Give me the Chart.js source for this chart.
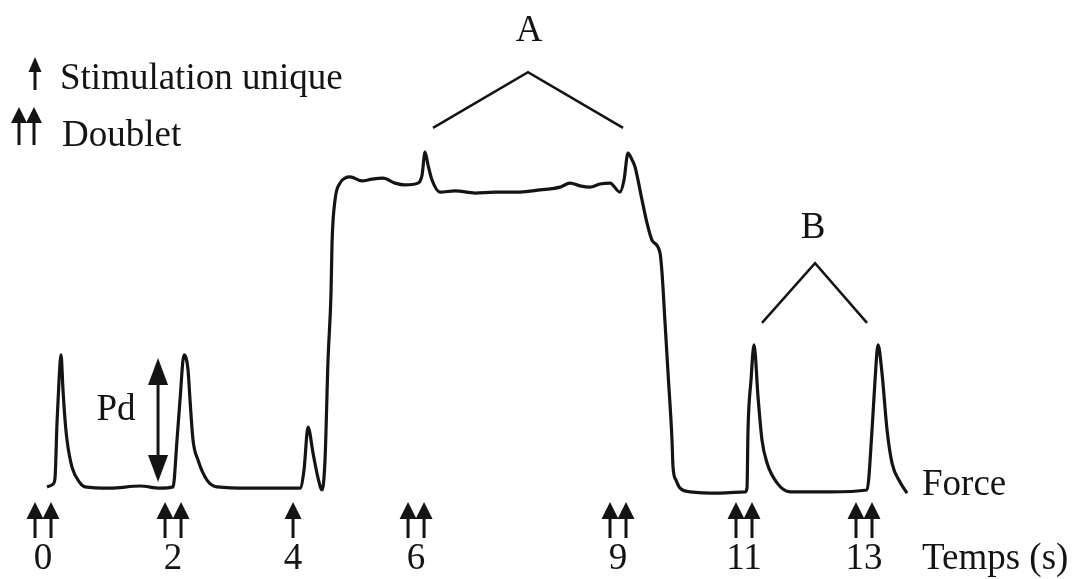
<!DOCTYPE html>
<html><head><meta charset="utf-8">
<script src="https://cdn.jsdelivr.net/npm/chart.js@4.4.1/dist/chart.umd.min.js"></script>
<style>html,body{margin:0;padding:0;background:#fff;overflow:hidden}#wrap{width:1077px;height:579px;position:relative}</style>
</head><body><div id="wrap"><canvas id="c"></canvas></div>
<script>
// Trace position along the recording (drawing units) and force (% of plateau)
const tracePos = [0.067,0.167,0.2,0.233,0.267,0.3,0.333,0.367,0.4,0.483,0.617,0.7,1.117,1.617,1.95,
  2.167,2.233,2.283,2.35,2.417,2.45,2.5,2.583,2.733,2.9,3.45,4.283,4.35,4.417,4.5,4.583,4.65,
  4.7,4.75,4.8,4.817,4.867,4.95,5.033,5.117,5.317,5.483,5.667,5.867,6.033,6.25,6.317,6.367,6.417,6.483,
  6.617,6.867,7.2,7.533,7.95,8.283,8.617,8.783,8.95,9.117,9.283,9.45,9.617,9.683,9.75,9.817,9.867,
  9.983,10.067,10.15,10.283,10.317,10.367,10.417,10.483,10.5,10.55,10.617,10.783,11.283,11.7,
  11.733,11.75,11.8,11.85,11.917,11.983,12.067,12.233,12.45,13.117,13.733,13.817,13.867,13.917,
  13.983,14.067,14.15,14.283,14.4];
const traceForce = [0.9,1.8,3.8,21.5,35.4,43.5,32.2,22.5,16.0,7.3,2.2,0.9,0.5,1.2,0.5,
  0.9,16.0,28.9,43.5,38.6,28.9,16.0,9.6,3.1,0.9,0.5,0.5,6.4,20.2,11.8,3.8,-0.1,
  9.6,41.8,63.5,79.6,93.5,98.9,100.5,100.9,99.6,100.2,100.5,98.9,98.3,98.9,101.5,108.9,104.7,99.9,
  96.0,96.4,95.7,96.0,96.0,96.7,97.6,98.9,98.0,97.6,98.6,98.9,96.0,99.9,108.6,106.4,104.1,
  93.5,86.0,80.5,76.4,69.9,53.8,37.6,16.0,7.3,3.1,0.5,-0.7,-1.1,-0.7,
  0.5,19.3,35.4,46.7,29.9,16.0,8.6,2.2,-0.7,-0.7,-0.1,19.3,35.4,46.7,
  37.6,19.3,8.6,2.5,-1.1];
// Time axis: tick positions (drawing units) and their labels (s)
const tickPos = [0, 2.167, 4.167, 6.217, 9.583, 11.683, 13.683];
const tickLabels = ['0','2','4','6','9','11','13'];
const stimKinds = ['doublet','doublet','single','doublet','doublet','doublet','doublet'];
const legendLabels = ['Stimulation unique', 'Doublet'];

const FONT = "'Liberation Serif', 'Times New Roman', serif";
const INK = '#141414';
const FS = 37;

function arrowUp(ctx, x, tipY, baseY, headLen, headW, lw) {
  ctx.beginPath();
  ctx.moveTo(x, tipY + headLen - 2);
  ctx.lineTo(x, baseY);
  ctx.lineWidth = lw; ctx.strokeStyle = INK; ctx.stroke();
  ctx.beginPath();
  ctx.moveTo(x, tipY);
  ctx.lineTo(x - headW / 2, tipY + headLen);
  ctx.lineTo(x + headW / 2, tipY + headLen);
  ctx.closePath(); ctx.fillStyle = INK; ctx.fill();
}
function arrowDown(ctx, x, tipY, headLen, headW) {
  ctx.beginPath();
  ctx.moveTo(x, tipY);
  ctx.lineTo(x - headW / 2, tipY - headLen);
  ctx.lineTo(x + headW / 2, tipY - headLen);
  ctx.closePath(); ctx.fillStyle = INK; ctx.fill();
}

const annot = {
  id: 'annot',
  afterDatasetsDraw(chart) {
    const ctx = chart.ctx, xs = chart.scales.x, ys = chart.scales.y;
    const X = v => xs.getPixelForValue(v), Y = v => ys.getPixelForValue(v);
    const base = chart.chartArea.bottom;
    ctx.save();
    // stimulation arrows under the trace
    tickPos.forEach((p, i) => {
      const cx = X(p);
      const offs = stimKinds[i] === 'doublet' ? [-8, 8] : [0];
      offs.forEach(o => arrowUp(ctx, cx + o, base + 3, base + 39, 17, 17, 3));
    });
    // legend
    arrowUp(ctx, 35, 57, 90, 15, 13, 3);
    arrowUp(ctx, 19, 107, 145, 16, 16, 3);
    arrowUp(ctx, 34, 107, 145, 16, 16, 3);
    ctx.fillStyle = INK;
    ctx.font = FS + 'px ' + FONT;
    ctx.textBaseline = 'alphabetic'; ctx.textAlign = 'left';
    ctx.fillText(legendLabels[0], 60, 89);
    ctx.fillText(legendLabels[1], 62, 146);
    // brackets A and B
    ctx.lineWidth = 2.5; ctx.strokeStyle = INK;
    ctx.beginPath();
    ctx.moveTo(X(6.5), Y(116.7)); ctx.lineTo(X(8.083), Y(134.7)); ctx.lineTo(X(9.667), Y(116.7));
    ctx.stroke();
    ctx.beginPath();
    ctx.moveTo(X(11.983), Y(53.8)); ctx.lineTo(X(12.867), Y(73.1)); ctx.lineTo(X(13.733), Y(53.8));
    ctx.stroke();
    ctx.textAlign = 'center'; ctx.textBaseline = 'middle';
    ctx.fillText('A', X(8.1), Y(148.0));
    ctx.fillText('B', X(12.833), Y(84.4));
    // Pd double arrow
    const px = X(1.917);
    ctx.lineWidth = 3;
    ctx.beginPath(); ctx.moveTo(px, Y(42.5) + 20); ctx.lineTo(px, Y(2.5) - 20); ctx.stroke();
    arrowUp(ctx, px, Y(42.5), Y(42.5) + 27, 27, 20, 3);
    arrowDown(ctx, px, Y(2.5), 27, 20);
    ctx.fillText('Pd', X(1.217), Y(25.7));
    // Force / Temps labels
    ctx.textAlign = 'left';
    ctx.fillText('Force', X(14.65), Y(1.5));
    ctx.fillText('Temps (s)', 922, base + 60);
    ctx.restore();
  }
};

new Chart(document.getElementById('c'), {
  type: 'line',
  data: {
    datasets: [{
      data: tracePos.map((x, i) => ({ x, y: traceForce[i] })),
      borderColor: INK, borderWidth: 3.2, pointRadius: 0,
      cubicInterpolationMode: 'monotone', clip: false, fill: false
    }]
  },
  options: {
    responsive: true, maintainAspectRatio: false, animation: false, devicePixelRatio: 1,
    layout: { padding: 0 },
    plugins: { legend: { display: false }, tooltip: { enabled: false } },
    scales: {
      x: {
        type: 'linear', min: -0.717, max: 17.233,
        grid: { display: false, drawTicks: false }, border: { display: false },
        afterBuildTicks: s => { s.ticks = tickPos.map(v => ({ value: v })); },
        afterFit: s => { s.height = 80; s.paddingLeft = 0; s.paddingRight = 0; },
        ticks: {
          autoSkip: false, maxRotation: 0, padding: 38, color: INK,
          font: { family: FONT, size: FS, lineHeight: 1.2 },
          callback: (v, i) => tickLabels[i]
        }
      },
      y: { type: 'linear', display: false, min: -3, max: 157.97 }
    }
  },
  plugins: [annot]
});
</script>
</body></html>
